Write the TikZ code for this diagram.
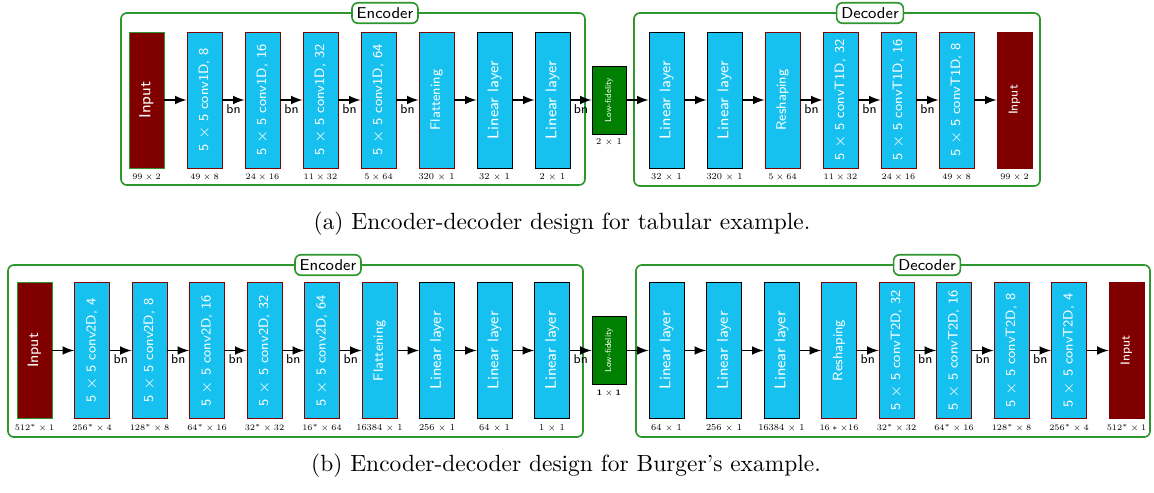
\documentclass[tikz,border=0pt]{standalone}
\usetikzlibrary{arrows}
\usepackage{xcolor}
\definecolor{layerblue}{RGB}{22,193,240}
\definecolor{inputred}{RGB}{128,0,0}
\definecolor{lowgreen}{RGB}{0,128,0}
\definecolor{framegreen}{RGB}{45,150,45}
\newcommand{\fsz}[1]{\fontsize{#1}{#1}\selectfont}
\newcommand{\rot}[1]{\rotatebox{90}{#1}}

\begin{document}
\begin{tikzpicture}[x=0.015cm, y=-0.015cm,
layer/.style = {rectangle, fill=layerblue, draw=#1, text=white, font=\sffamily,
            minimum width=0.525cm, minimum height=2.04cm, inner sep=0pt},
layer/.default = black,
inbox/.style = {layer=#1, fill=inputred},
inbox/.default = inputred,
lowfi/.style = {rectangle, fill=lowgreen, draw=black, text=white, font=\sffamily,
            minimum width=0.51cm, minimum height=1.02cm, inner sep=0pt},
dims/.style = {font=\fsz{6.5}, inner sep=0pt, scale=0.6, transform shape},
link/.style = {-latex, line width=0.7pt},
bnlab/.style = {below, font=\sffamily\fsz{5.5}, inner sep=1.5pt},
groupframe/.style = {draw=framegreen, line width=0.7pt, rounded corners=2.5pt},
framelab/.style = {groupframe, fill=white, font=\sffamily\fsz{6.7}, inner sep=2pt}
                ]
    \useasboundingbox (0,0) rectangle (1154,492);

    % (a) tabular example
    \draw[groupframe] (121,13) rectangle (585,185);
    \draw[groupframe] (634,13) rectangle (1040,186);
    \node[framelab] at (385,13) (aenc) {Encoder};
    \node[framelab] at (870,13) (adec) {Decoder};

    \node[inbox=framegreen] at (146.5,100) (a1) {\rot{\fsz{6.8}Input}};
    \foreach \i/\n in {2/8, 3/16, 4/32, 5/64}
        \node[layer=inputred] at (88.5+58*\i,100) (a\i) {\rot{\fsz{5.8}5 $\times$ 5 conv1D, \n}};
    \node[layer=inputred] at (436.5,100) (a6) {\rot{\fsz{5.8}Flattening}};
    \foreach \i in {7,8}
        \node[layer] at (88.5+58*\i,100) (a\i) {\rot{\fsz{6.6}Linear layer}};
    \foreach \i/\t in {1/{$99\times2$}, 2/{$49\times8$}, 3/{$24\times16$}, 4/{$11\times32$},
                       5/{$5\times64$}, 6/{320 $\times$ 1}, 7/{32 $\times$ 1}, 8/{2 $\times$ 1}}
        \node[dims] at (88.5+58*\i,177) (ad\i) {\t};

    \node[lowfi] at (609,100) (alf) {\rot{\fsz{3.7}Low-fidelity}};
    \node[dims] at (609,142) (alfd) {2 $\times$ 1};

    \foreach \i in {1,2}
        \node[layer] at (608.5+58*\i,100) (b\i) {\rot{\fsz{6.6}Linear layer}};
    \node[layer=inputred] at (782.5,100) (b3) {\rot{\fsz{5.8}Reshaping}};
    \foreach \i/\n in {4/32, 5/16, 6/8}
        \node[layer=inputred] at (608.5+58*\i,100) (b\i) {\rot{\fsz{5.8}5 $\times$ 5 convT1D, \n}};
    \node[inbox] at (1014.5,100) (b7) {\rot{\fsz{5.5}Input}};
    \foreach \i/\t in {1/{32 $\times$ 1}, 2/{320 $\times$ 1}, 3/{$5\times64$}, 4/{$11\times32$},
                       5/{$24\times16$}, 6/{$49\times8$}, 7/{$99\times2$}}
        \node[dims] at (608.5+58*\i,177) (bd\i) {\t};

    \draw[link] (a1) -- (a2);
    \foreach \i/\j in {2/3, 3/4, 4/5, 5/6}
        \draw[link] (a\i) -- node[bnlab] (abn\i) {bn} (a\j);
    \draw[link] (a6) -- (a7);
    \draw[link] (a7) -- (a8);
    \draw[link] (a8) -- node[bnlab] (abn8) {bn} (alf);
    \draw[link] (alf) -- (b1);
    \draw[link] (b1) -- (b2);
    \draw[link] (b2) -- (b3);
    \foreach \i/\j in {3/4, 4/5, 5/6}
        \draw[link] (b\i) -- node[bnlab] (bbn\i) {bn} (b\j);
    \draw[link] (b6) -- (b7);

    \node at (562,224) (capa) {(a) Encoder-decoder design for tabular example.};

    % (b) Burger's example
    \draw[groupframe] (8,265) rectangle (583,437);
    \draw[groupframe] (636,265) rectangle (1150,437);
    \node[framelab] at (328,265) (cenc) {Encoder};
    \node[framelab] at (927,265) (cdec) {Decoder};

    \node[inbox=framegreen] at (34.5,350.5) (c1) {\rot{\fsz{6.4}Input}};
    \foreach \i/\n in {2/4, 3/8, 4/16, 5/32, 6/64}
        \node[layer=inputred] at (-23+57.5*\i,350.5) (c\i) {\rot{\fsz{5.8}5 $\times$ 5 conv2D, \n}};
    \node[layer=inputred] at (379.5,350.5) (c7) {\rot{\fsz{5.8}Flattening}};
    \foreach \i in {8,9,10}
        \node[layer] at (-23+57.5*\i,350.5) (c\i) {\rot{\fsz{6.6}Linear layer}};
    \foreach \i/\t in {1/{$512^*\times1$}, 2/{$256^*\times4$}, 3/{$128^*\times8$}, 4/{$64^*\times16$},
                       5/{$32^*\times32$}, 6/{$16^*\times64$}, 7/{16384 $\times$ 1}, 8/{256 $\times$ 1},
                       9/{64 $\times$ 1}, 10/{1 $\times$ 1}}
        \node[dims] at (-23+57.5*\i,428) (cd\i) {\t};

    \node[lowfi] at (609,350.5) (clf) {\rot{\fsz{3.7}Low-fidelity}};
    \node[dims] at (609,393) (clfd) {$\mathbf{1\times1}$};

    \foreach \i in {1,2,3}
        \node[layer] at (609+57.5*\i,350.5) (d\i) {\rot{\fsz{6.6}Linear layer}};
    \node[layer=inputred] at (839,350.5) (d4) {\rot{\fsz{5.8}Reshaping}};
    \foreach \i/\n in {5/32, 6/16, 7/8, 8/4}
        \node[layer=inputred] at (609+57.5*\i,350.5) (d\i) {\rot{\fsz{5.8}5 $\times$ 5 convT2D, \n}};
    \node[inbox] at (1126.5,350.5) (d9) {\rot{\fsz{5.5}Input}};
    \foreach \i/\t in {1/{64 $\times$ 1}, 2/{256 $\times$ 1}, 3/{16384 $\times$ 1}, 4/{$16*\times16$},
                       5/{$32^*\times32$}, 6/{$64^*\times16$}, 7/{$128^*\times8$}, 8/{$256^*\times4$},
                       9/{$512^*\times1$}}
        \node[dims] at (609+57.5*\i,428) (dd\i) {\t};

    \draw[link] (c1) -- (c2);
    \foreach \i/\j in {2/3, 3/4, 4/5, 5/6, 6/7}
        \draw[link] (c\i) -- node[bnlab] (cbn\i) {bn} (c\j);
    \foreach \i/\j in {7/8, 8/9, 9/10}
        \draw[link] (c\i) -- (c\j);
    \draw[link] (c10) -- node[bnlab] (cbn10) {bn} (clf);
    \draw[link] (clf) -- (d1);
    \foreach \i/\j in {1/2, 2/3, 3/4}
        \draw[link] (d\i) -- (d\j);
    \foreach \i/\j in {4/5, 5/6, 6/7, 7/8}
        \draw[link] (d\i) -- node[bnlab] (dbn\i) {bn} (d\j);
    \draw[link] (d8) -- (d9);

    \node at (566,466) (capb) {(b) Encoder-decoder design for Burger's example.};
\end{tikzpicture}
\end{document}
